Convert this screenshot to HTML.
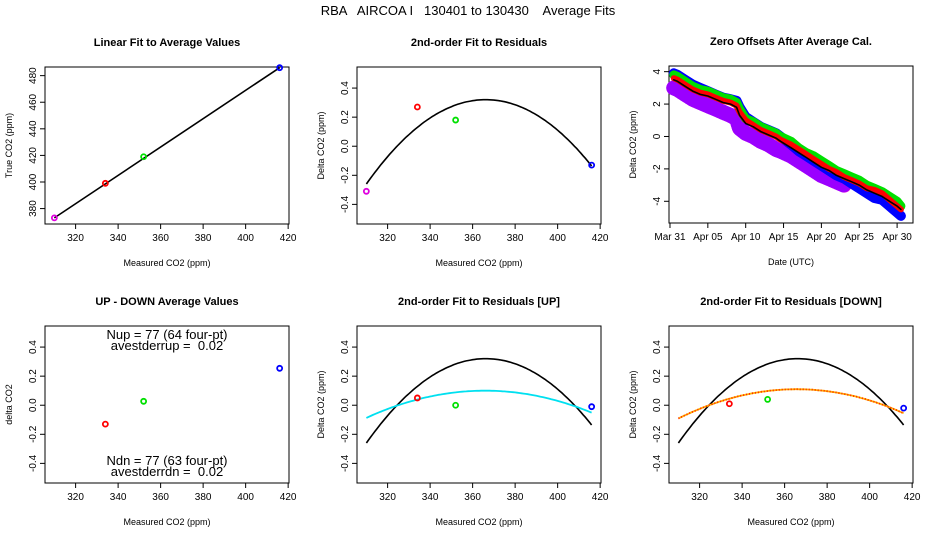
<!DOCTYPE html>
<html><head><meta charset="utf-8"><style>
body{margin:0;background:#fff}
svg{display:block;font-family:"Liberation Sans",sans-serif}
text{white-space:pre}
</style></head><body>
<svg id="c" width="936" height="540" xmlns="http://www.w3.org/2000/svg">
<text x="468" y="15" text-anchor="middle" font-size="13" xml:space="preserve">RBA   AIRCOA I   130401 to 130430    Average Fits</text>
</svg>
<script>
// ---- data ----
const ptX = [310, 334, 352, 416];
const ptTrue = [373, 399, 419, 486];
const ptColors = ['#e000e0', '#ff0000', '#00e000', '#0000ff'];
const fitLine = [310, 416];
const residuals = [-0.31, 0.27, 0.18, -0.13];
const quadAll = [0.32, 0.000436, -0.0001838];   // c, b, a about x=365
const quadUp = [0.10, 0.0001, -0.0000600];
const quadDn = [0.11, 0.00008, -0.0000650];
const udX = [334, 352, 416];
const udVals = [-0.13, 0.027, 0.254];
const upVals = [0.05, 0.0, -0.01];
const dnVals = [0.01, 0.04, -0.02];
const udColors = ['#ff0000', '#00e000', '#0000ff'];
const days = [0.5,1,2,3,4,5,6,7,8,8.8,9.2,10,11,12,13,14,14.6,16,17,18,19,20,21,22,23,24,25,26,27,28,29,30,30.5];
const zeroBlack = [3.5,3.4,3.1,2.8,2.6,2.5,2.3,2.1,2.0,1.8,1.3,0.8,0.6,0.3,0.1,-0.1,-0.3,-0.7,-1.0,-1.3,-1.6,-1.9,-2.1,-2.4,-2.6,-2.8,-3.0,-3.3,-3.5,-3.7,-4.0,-4.3,-4.5];
const zeroGreen = [3.8,3.7,3.4,3.1,2.9,2.8,2.6,2.4,2.3,2.1,1.7,1.1,0.9,0.6,0.4,0.2,0.0,-0.3,-0.7,-1.0,-1.2,-1.5,-1.8,-2.1,-2.3,-2.5,-2.7,-3.0,-3.2,-3.4,-3.7,-4.0,-4.3];
const zeroBlue = [3.9,3.8,3.5,3.2,3.0,2.8,2.6,2.4,2.3,2.2,1.8,1.2,0.9,0.6,0.4,0.2,0.0,-0.5,-0.9,-1.2,-1.5,-1.8,-2.1,-2.4,-2.6,-2.9,-3.2,-3.5,-3.8,-3.9,-4.3,-4.7,-4.9];
const zeroRed = [3.6,3.5,3.2,2.9,2.7,2.6,2.4,2.2,2.1,1.9,1.5,1.0,0.7,0.4,0.2,0.0,-0.2,-0.5,-0.8,-1.1,-1.4,-1.7,-2.0,-2.2,-2.5,-2.7,-2.9,-3.2,-3.3,-3.5,-3.9,-4.3,-4.5];
const zeroMag = [3.0,2.9,2.6,2.3,2.1,1.9,1.7,1.5,1.3,1.1,0.5,0.2,0.0,-0.3,-0.5,-0.8,-0.9,-1.2,-1.5,-1.8,-2.1,-2.4,-2.6,-2.8,-3.0,null,null,null,null,null,null,null,null];
const dateTicks = ['Mar 31','Apr 05','Apr 10','Apr 15','Apr 20','Apr 25','Apr 30'];
const dateTickDays = [0,5,10,15,20,25,30];
const co2Ticks = [320,340,360,380,400,420];
const trueTicks = [380,400,420,440,460,480];
const resTicks = [-0.4,-0.2,0.0,0.2,0.4];
const zeroTicks = [-4,-2,0,2,4];

const svg = document.getElementById('c');
const NS = 'http://www.w3.org/2000/svg';
function mk(tag, attrs, parent){const e=document.createElementNS(NS,tag);for(const k in attrs)e.setAttribute(k,attrs[k]);(parent||svg).appendChild(e);return e;}

function panel(name, bx, by, title, xlabel, ylabel, xd, yd, xticks, yticks, xtl, ytl){
  const g = mk('g',{});
  
  
  const W=244,H=157;
  const sx=v=>bx+(v-xd[0])/(xd[1]-xd[0])*W;
  const sy=v=>by+H-(v-yd[0])/(yd[1]-yd[0])*H;
  const t=mk('text',{x:bx+W/2,y:by-21,'text-anchor':'middle','font-size':11,'font-weight':'bold'},g);t.textContent=title;
  
  
  xticks.forEach((v,i)=>{const x=sx(v);mk('line',{x1:x,x2:x,y1:by+H,y2:by+H+5,stroke:'#000'},g);
    const l=mk('text',{x:x,y:by+H+17,'text-anchor':'middle','font-size':10},g);l.textContent=xtl?xtl[i]:v;
    
    });
  yticks.forEach((v,i)=>{const y=sy(v);mk('line',{x1:bx,x2:bx-5,y1:y,y2:y,stroke:'#000'},g);
    const l=mk('text',{x:bx-9,y:y,'text-anchor':'middle','font-size':10,transform:`rotate(-90 ${bx-9} ${y})`},g);l.textContent=ytl?ytl[i]:v;
    
    });
  const xl=mk('text',{x:bx+W/2,y:by+H+42,'text-anchor':'middle','font-size':9},g);xl.textContent=xlabel;
  
  
  const yx=bx-33,yy=by+H/2;
  const yl=mk('text',{x:yx,y:yy,'text-anchor':'middle','font-size':9,transform:`rotate(-90 ${yx} ${yy})`},g);yl.textContent=ylabel;
  
  
  const box=mk('rect',{x:bx,y:by,width:W,height:H,fill:'none',stroke:'#000','stroke-width':1},g);
  
  
  return {g,sx,sy};
}
function circle(p,x,y,col){const c=mk('circle',{cx:p.sx(x),cy:p.sy(y),r:2.5,fill:'none',stroke:col,'stroke-width':1.8},p.g);
  
  }
function quad(p,q,col,w,dash){let d='';for(let x=310;x<=416;x+=1){const u=x-365;const y=q[0]+q[1]*u+q[2]*u*u;d+=(d?'L':'M')+p.sx(x).toFixed(1)+' '+p.sy(y).toFixed(1);}
  const e=mk('path',{d,fill:'none',stroke:col,'stroke-width':w},p.g);if(dash)e.setAttribute('stroke-dasharray',dash);
  
  }
const xd=[305.6,420.4], rd=[-0.535,0.545];
const rtl=resTicks.map(v=>v.toFixed(1));

// panel 1
const p1=panel('linear-fit-panel',45,67,'Linear Fit to Average Values','Measured CO2 (ppm)','True CO2 (ppm)',xd,[368.4,486.5],co2Ticks,trueTicks);
const fl=mk('line',{x1:p1.sx(fitLine[0]),y1:p1.sy(ptTrue[0]),x2:p1.sx(fitLine[1]),y2:p1.sy(ptTrue[3]),stroke:'#000','stroke-width':1.6},p1.g);


ptX.forEach((x,i)=>circle(p1,x,ptTrue[i],ptColors[i]));

// panel 2
const p2=panel('residual-fit-panel',357,67,'2nd-order Fit to Residuals','Measured CO2 (ppm)','Delta CO2 (ppm)',xd,rd,co2Ticks,resTicks,null,rtl);
quad(p2,quadAll,'#000',1.6);
ptX.forEach((x,i)=>circle(p2,x,residuals[i],ptColors[i]));

// panel 3
const p3=panel('zero-offsets-panel',669,66,'Zero Offsets After Average Cal.','Date (UTC)','Delta CO2 (ppm)',[-0.13,32.1],[-5.34,4.35],dateTickDays,zeroTicks,dateTicks);
function series(vals,col,w,dash,name){let d='',pen=false;days.forEach((t,i)=>{const v=vals[i];if(v===null){pen=false;return;}d+=(pen?'L':'M')+p3.sx(t).toFixed(1)+' '+p3.sy(v).toFixed(1);pen=true;});
  const e=mk('path',{d,fill:'none',stroke:col,'stroke-width':w,'stroke-linejoin':'round','stroke-linecap':'round'},p3.g);if(dash)e.setAttribute('stroke-dasharray',dash);
  
  }
series(zeroMag,'#e000e0',15,null,'magenta-series');
series(zeroMag,'#9a00ff',15,'1 2','magenta-hatch');
series(zeroBlue,'#0000ff',10,null,'blue-series');
series(zeroGreen,'#00e000',9,null,'green-series');
series(zeroRed,'#ff0000',6,null,'red-series');
series(zeroBlack,'#000',1.6,null,'average-series');

// panel 4
const p4=panel('up-down-panel',45,326,'UP - DOWN Average Values','Measured CO2 (ppm)','delta CO2',xd,rd,co2Ticks,resTicks,null,rtl);
udX.forEach((x,i)=>circle(p4,x,udVals[i],udColors[i]));
[['Nup = 77 (64 four-pt)',339],['avestderrup =  0.02',350],['Ndn = 77 (63 four-pt)',465],['avestderrdn =  0.02',476]].forEach(a=>{
  const t=mk('text',{x:167,y:a[1],'text-anchor':'middle','font-size':13},p4.g);t.textContent=a[0];
  t.setAttribute('xml:space','preserve');
  
  });

// panel 5
const p5=panel('up-residual-panel',357,326,'2nd-order Fit to Residuals [UP]','Measured CO2 (ppm)','Delta CO2 (ppm)',xd,rd,co2Ticks,resTicks,null,rtl);
quad(p5,quadAll,'#000',1.6);quad(p5,quadUp,'#00e0f0',1.8);
udX.forEach((x,i)=>circle(p5,x,upVals[i],udColors[i]));

// panel 6
const p6=panel('down-residual-panel',669,326,'2nd-order Fit to Residuals [DOWN]','Measured CO2 (ppm)','Delta CO2 (ppm)',xd,rd,co2Ticks,resTicks,null,rtl);
quad(p6,quadAll,'#000',1.6);quad(p6,quadDn,'#ffb000',1.8);quad(p6,quadDn,'#ff2000',1.8,'1 2');
udX.forEach((x,i)=>circle(p6,x,dnVals[i],udColors[i]));
</script>
</body></html>
